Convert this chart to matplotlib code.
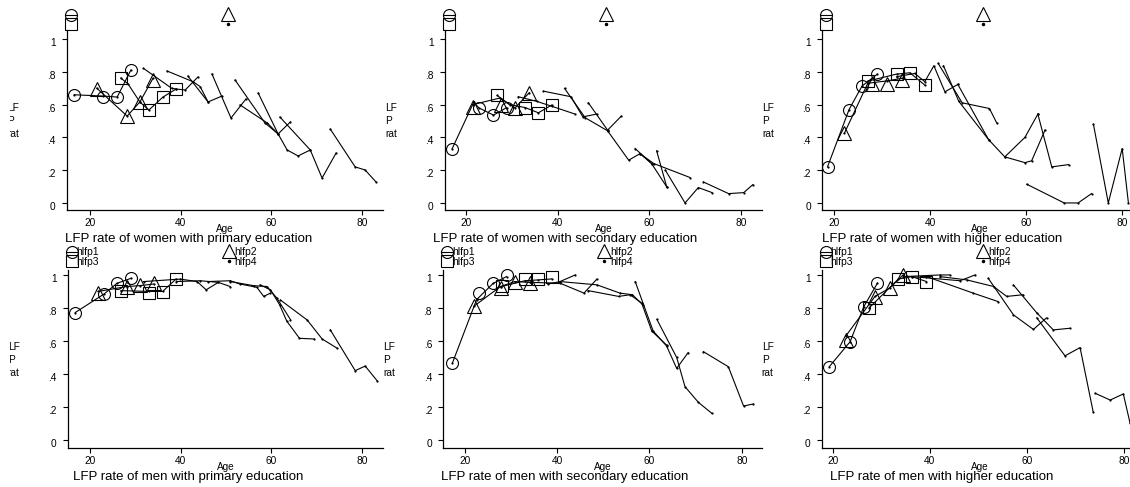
import matplotlib
matplotlib.use('Agg')
import matplotlib.pyplot as plt
from matplotlib.lines import Line2D
from matplotlib.transforms import Bbox, ScaledTranslation

plt.rcParams['font.family'] = ['Liberation Sans', 'DejaVu Sans']

# ---------------- data (age, LFP rate) ----------------
TITLES = ["LFP rate of women with primary education",
          "LFP rate of women with secondary education",
          "LFP rate of women with higher education",
          "LFP rate of men with primary education",
          "LFP rate of men with secondary education",
          "LFP rate of men with higher education"]
X_LABEL = "Age"
Y_LABEL = "LF\nP\nrat"
X_TICKS = [20, 40, 60, 80]
X_TICKLABELS = ["20", "40", "60", "80"]
Y_TICKS = [0, 0.2, 0.4, 0.6, 0.8, 1.0]
Y_TICKLABELS = ["0", ".2", ".4", ".6", ".8", "1"]
LEGEND_LABELS = ["hlfp1", "hlfp2", "hlfp3", "hlfp4"]

# women, primary
W1_LINES = [
    ([16.5, 22.9, 26.0, 29.0], [0.66, 0.652, 0.646, 0.81]),
    ([21.5, 28.2, 31.0, 33.9], [0.70, 0.53, 0.616, 0.76]),
    ([26.8, 28.4, 31.0, 33.0, 36.1, 39.0, 41.0, 43.8], [0.762, 0.726, 0.616, 0.567, 0.646, 0.695, 0.689, 0.768]),
    ([31.8, 38.0, 39.0], [0.821, 0.70, 0.695]),
    ([37.0, 42.7, 44.3, 46.05], [0.805, 0.74, 0.71, 0.616]),
    ([41.6, 46.05, 49.1], [0.774, 0.616, 0.652]),
    ([46.9, 51.1, 54.4], [0.787, 0.518, 0.634]),
    ([52.0, 58.6, 61.5], [0.75, 0.488, 0.421]),
    ([53.1, 59.1, 61.5, 63.5, 65.9, 68.6], [0.598, 0.488, 0.421, 0.323, 0.287, 0.323]),
    ([57.1, 61.5, 64.2], [0.671, 0.421, 0.494]),
    ([61.9, 68.6, 71.2, 74.3], [0.524, 0.323, 0.152, 0.305]),
    ([73.0, 78.5, 80.7, 83.1], [0.451, 0.22, 0.201, 0.128]),
]
W1_CIRC_X, W1_CIRC_Y = [16.5, 22.9, 26.0, 29.05], [0.66, 0.646, 0.646, 0.81]
W1_TRI_X, W1_TRI_Y = [21.5, 28.2, 31.0, 33.9], [0.695, 0.53, 0.616, 0.75]
W1_SQ_X, W1_SQ_Y = [26.8, 33.0, 36.1, 39.0], [0.762, 0.567, 0.646, 0.695]

# women, secondary
W2_LINES = [
    ([17.0, 21.7, 22.8, 26.0, 28.9], [0.332, 0.615, 0.58, 0.536, 0.582]),
    ([21.5, 27.4, 30.7, 33.8], [0.60, 0.64, 0.58, 0.672]),
    ([26.8, 29.5, 32.9, 35.8, 38.7], [0.656, 0.60, 0.582, 0.55, 0.597]),
    ([31.4, 35.4, 38.7, 43.8], [0.648, 0.62, 0.59, 0.542]),
    ([36.9, 42.9, 45.5, 48.5], [0.682, 0.648, 0.525, 0.542]),
    ([41.5, 46.0, 50.9], [0.699, 0.52, 0.44]),
    ([46.7, 50.9, 53.9], [0.611, 0.444, 0.53]),
    ([50.9, 55.5, 58.0, 60.5], [0.44, 0.261, 0.301, 0.24]),
    ([56.9, 60.5, 63.8], [0.332, 0.24, 0.098]),
    ([61.6, 63.8], [0.318, 0.098]),
    ([58.0, 61.0, 68.9], [0.30, 0.24, 0.155]),
    ([63.5, 67.8, 70.7, 73.7], [0.20, 0.0, 0.094, 0.063]),
    ([71.8, 77.3, 80.6, 82.6], [0.128, 0.057, 0.063, 0.112]),
]
W2_CIRC_X, W2_CIRC_Y = [17.0, 22.8, 26.0, 28.9], [0.332, 0.58, 0.536, 0.582]
W2_TRI_X, W2_TRI_Y = [21.5, 27.6, 30.7, 33.8], [0.587, 0.60, 0.58, 0.672]
W2_SQ_X, W2_SQ_Y = [26.8, 32.9, 35.8, 38.7], [0.656, 0.582, 0.55, 0.597]

# women, higher
W3_LINES = [
    ([18.6, 23.1, 25.8, 29.0], [0.22, 0.57, 0.713, 0.786]),
    ([22.1, 27.0, 31.1, 34.1], [0.424, 0.73, 0.745, 0.76]),
    ([27.0, 33.0, 35.8, 38.9], [0.743, 0.786, 0.794, 0.719]),
    ([33.0, 36.8, 38.9, 40.8, 43.1, 45.8], [0.77, 0.79, 0.74, 0.837, 0.678, 0.723]),
    ([41.7, 46.7, 52.4, 53.9], [0.851, 0.611, 0.576, 0.489]),
    ([42.8, 46.0, 52.2], [0.837, 0.62, 0.387]),
    ([45.8, 52.2, 55.6, 59.8, 62.5], [0.723, 0.387, 0.281, 0.40, 0.542]),
    ([55.6, 59.8, 61.2, 64.0], [0.281, 0.246, 0.257, 0.445]),
    ([62.5, 65.4, 68.9], [0.542, 0.22, 0.234]),
    ([60.2, 68.0, 70.9, 73.7], [0.114, 0.0, 0.0, 0.057]),
    ([74.1, 77.2, 80.1, 81.4], [0.48, 0.0, 0.332, 0.0]),
]
W3_CIRC_X, W3_CIRC_Y = [18.6, 23.1, 25.8, 29.0], [0.22, 0.57, 0.713, 0.786]
W3_TRI_X, W3_TRI_Y = [22.1, 27.9, 31.1, 34.1], [0.424, 0.725, 0.725, 0.75]
W3_SQ_X, W3_SQ_Y = [27.0, 33.0, 35.8, 38.9], [0.743, 0.786, 0.794, 0.719]

# men, primary
M1_LINES = [
    ([16.7, 23.1, 25.9, 29.05], [0.772, 0.885, 0.949, 0.98]),
    ([21.8, 28.1, 30.9, 34.0], [0.90, 0.93, 0.935, 0.945]),
    ([26.8, 33.1, 36.0, 38.9], [0.905, 0.90, 0.90, 0.974]),
    ([31.8, 39.9, 43.6, 45.6, 48.3], [0.96, 0.975, 0.96, 0.91, 0.955]),
    ([39.0, 44.3, 48.3, 50.9], [0.96, 0.965, 0.955, 0.93]),
    ([46.0, 50.9, 53.1, 56.8, 58.3, 59.8], [0.96, 0.965, 0.945, 0.925, 0.87, 0.89]),
    ([50.9, 56.1, 59.0, 61.2, 64.2], [0.96, 0.935, 0.93, 0.86, 0.73]),
    ([57.5, 59.8, 61.8, 63.4, 66.2, 69.4], [0.94, 0.91, 0.82, 0.72, 0.616, 0.612]),
    ([62.0, 67.9, 71.2, 74.5], [0.848, 0.727, 0.612, 0.556]),
    ([73.0, 78.5, 80.7, 83.3], [0.667, 0.42, 0.448, 0.36]),
]
M1_CIRC_X, M1_CIRC_Y = [16.7, 23.1, 25.9, 29.05], [0.772, 0.885, 0.949, 0.98]
M1_TRI_X, M1_TRI_Y = [21.8, 28.1, 30.9, 34.0], [0.893, 0.929, 0.939, 0.949]
M1_SQ_X, M1_SQ_Y = [26.8, 33.1, 36.0, 38.9], [0.905, 0.889, 0.899, 0.974]

# men, secondary
M2_LINES = [
    ([17.25, 22.5, 26.1, 29.0], [0.465, 0.85, 0.949, 0.99]),
    ([22.0, 27.7, 30.8, 34.1], [0.812, 0.93, 0.96, 0.955]),
    ([27.9, 33.0, 35.9, 38.8], [0.93, 0.965, 0.97, 0.976]),
    ([34.1, 40.6, 45.8, 48.6], [0.955, 0.95, 0.89, 0.975]),
    ([38.0, 40.6, 43.9], [0.945, 0.96, 1.0]),
    ([40.6, 48.6, 53.6, 56.3, 58.5], [0.96, 0.94, 0.89, 0.88, 0.82]),
    ([46.7, 53.3, 55.8, 58.3, 60.5, 63.7], [0.905, 0.87, 0.88, 0.83, 0.66, 0.575]),
    ([56.9, 60.8, 63.7, 65.9, 68.4], [0.96, 0.66, 0.57, 0.434, 0.53]),
    ([61.6, 65.9, 67.7, 70.6, 73.5], [0.731, 0.50, 0.323, 0.228, 0.162]),
    ([71.7, 77.1, 80.4, 82.5], [0.535, 0.444, 0.206, 0.218]),
]
M2_CIRC_X, M2_CIRC_Y = [17.25, 23.0, 26.1, 29.0], [0.465, 0.893, 0.949, 1.0]
M2_TRI_X, M2_TRI_Y = [22.0, 27.7, 30.8, 34.1], [0.812, 0.919, 0.96, 0.954]
M2_SQ_X, M2_SQ_Y = [27.95, 33.0, 35.9, 38.8], [0.933, 0.974, 0.974, 0.986]

# men, higher
M3_LINES = [
    ([19.3, 23.6, 26.4, 29.2], [0.444, 0.596, 0.808, 0.95]),
    ([22.7, 28.7, 31.7, 34.5], [0.63, 0.87, 0.92, 1.0]),
    ([27.5, 33.5, 36.3, 39.3], [0.80, 0.975, 0.99, 0.96]),
    ([34.5, 42.1, 44.1], [0.99, 1.0, 1.0]),
    ([36.3, 46.2, 49.3], [0.99, 0.965, 1.0]),
    ([39.3, 48.9, 54.1], [0.99, 0.89, 0.838]),
    ([42.1, 47.6, 53.1, 55.8, 59.2], [0.99, 0.97, 0.93, 0.87, 0.88]),
    ([52.0, 57.2, 61.3, 64.0], [0.98, 0.758, 0.67, 0.74]),
    ([57.2, 62.0, 65.4, 68.8], [0.939, 0.77, 0.667, 0.677]),
    ([62.0, 67.8, 70.9, 73.6], [0.74, 0.51, 0.56, 0.17]),
    ([74.0, 77.1, 79.8, 81.2], [0.283, 0.242, 0.279, 0.10]),
]
M3_CIRC_X, M3_CIRC_Y = [19.3, 23.6, 26.4, 29.2], [0.444, 0.596, 0.808, 0.95]
M3_TRI_X, M3_TRI_Y = [22.7, 28.7, 31.7, 34.5], [0.606, 0.869, 0.919, 1.0]
M3_SQ_X, M3_SQ_Y = [27.5, 33.5, 36.3, 39.3], [0.798, 0.974, 0.99, 0.96]

PANEL_DATA = [
    (W1_LINES, W1_CIRC_X, W1_CIRC_Y, W1_TRI_X, W1_TRI_Y, W1_SQ_X, W1_SQ_Y),
    (W2_LINES, W2_CIRC_X, W2_CIRC_Y, W2_TRI_X, W2_TRI_Y, W2_SQ_X, W2_SQ_Y),
    (W3_LINES, W3_CIRC_X, W3_CIRC_Y, W3_TRI_X, W3_TRI_Y, W3_SQ_X, W3_SQ_Y),
    (M1_LINES, M1_CIRC_X, M1_CIRC_Y, M1_TRI_X, M1_TRI_Y, M1_SQ_X, M1_SQ_Y),
    (M2_LINES, M2_CIRC_X, M2_CIRC_Y, M2_TRI_X, M2_TRI_Y, M2_SQ_X, M2_SQ_Y),
    (M3_LINES, M3_CIRC_X, M3_CIRC_Y, M3_TRI_X, M3_TRI_Y, M3_SQ_X, M3_SQ_Y),
]

# ---------------- layout (pixels) ----------------
W, H = 1130, 487
# (left px, right px, x-axis px, top px, xlim, ylim)
GEOM = [
    (67.0, 383.0, 210.0, 30.0, (14.93, 84.64), (-0.043, 1.055)),
    (445.0, 762.0, 210.0, 30.0, (15.42, 84.59), (-0.043, 1.055)),
    (822.0, 1138.0, 210.0, 30.0, (17.45, 83.4), (-0.043, 1.055)),
    (67.7, 383.0, 447.9, 270.0, (15.05, 84.63), (-0.048, 1.03)),
    (443.3, 762.0, 447.9, 270.0, (15.29, 84.4), (-0.048, 1.03)),
    (821.7, 1138.0, 447.9, 270.0, (17.74, 82.82), (-0.048, 1.03)),
]
COL_CENTERS = [188.3, 565.0, 941.7]

fig = plt.figure(figsize=(W / 100, H / 100), dpi=100)
fig.patch.set_facecolor('white')


def fx(x):
    return x / W


def fy(y):
    return 1 - y / H


LW = 0.8
for i, (geom, pdata) in enumerate(zip(GEOM, PANEL_DATA)):
    L, R, B, T, xl, yl = geom
    lines, cx, cy, tx, ty, sx, sy = pdata
    ax = fig.add_axes([fx(L), fy(B), (R - L) / W, (B - T) / H])
    ax.set_xlim(*xl)
    ax.set_ylim(*yl)
    ax.patch.set_alpha(0)
    for xs, ys in lines:
        ax.plot(xs, ys, color='black', lw=LW, marker='o', ms=1.6,
                mfc='black', mec='black', mew=0)
    ax.plot(cx, cy, ls='none', marker='o', ms=8.6, mfc='none', mec='black',
            mew=0.8, clip_on=False)
    ax.plot(tx, ty, ls='none', marker='^', ms=9.5, mfc='none', mec='black',
            mew=0.8, clip_on=False)
    ax.plot(sx, sy, ls='none', marker='s', ms=8.0, mfc='none', mec='black',
            mew=0.8, clip_on=False)
    for s in ['top', 'right']:
        ax.spines[s].set_visible(False)
    for s in ['left', 'bottom']:
        ax.spines[s].set_linewidth(0.9)
    ax.set_xticks(X_TICKS)
    ax.set_xticklabels(X_TICKLABELS)
    ax.set_yticks(Y_TICKS)
    ax.set_yticklabels(Y_TICKLABELS)
    ax.tick_params(axis='both', direction='out', length=3.6, width=0.8,
                   labelsize=7.3, colors='black')
    ax.tick_params(axis='x', pad=2.2)
    ax.tick_params(axis='y', pad=4.5)
    off = ScaledTranslation(0, -3 / 100, fig.dpi_scale_trans)
    for lab in ax.get_yticklabels():
        lab.set_transform(lab.get_transform() + off)

    row = i // 3
    col = i % 3
    # axis title
    age_y = 229 if row == 0 else 467
    fig.text(fx((L + R) / 2), fy(age_y), X_LABEL, ha='center', va='center',
             fontsize=7.2)
    # panel title
    tit_y = 239 if row == 0 else 477
    fig.text(fx(COL_CENTERS[col]), fy(tit_y), TITLES[i], ha='center',
             va='center', fontsize=9.5)
    # y label
    mid_y = (B + T) / 2 + 1
    yt = fig.text(fx(L - 60), fy(mid_y), Y_LABEL, ha='left', va='center',
                  fontsize=7.3, linespacing=1.35)
    if col == 0:
        yt.set_clip_on(True)
        yt.set_clip_box(Bbox([[10, 0], [W, H]]))

    # legend
    ly1 = 15 if row == 0 else 252
    ly2 = ly1 + 9
    for (mx, my, mk, ms, line_key) in [
        (L + 4, ly1, 'o', 8.6, True),
        (L + 4, ly2, 's', 8.0, False),
        (L + 161, ly1 - 1, '^', 9.5, False),
    ]:
        fig.add_artist(Line2D([fx(mx)], [fy(my)], marker=mk, ms=ms,
                              mfc='none', mec='black', mew=0.8, ls='none',
                              transform=fig.transFigure))
        if line_key:
            fig.add_artist(Line2D([fx(mx - 6), fx(mx + 6)], [fy(my), fy(my)],
                                  color='black', lw=LW,
                                  transform=fig.transFigure))
    fig.add_artist(Line2D([fx(L + 161)], [fy(ly2)], marker='o', ms=1.5,
                          mfc='black', mec='black', ls='none',
                          transform=fig.transFigure))
    if row == 1:
        fig.text(fx(L + 9), fy(ly1), LEGEND_LABELS[0], ha='left', va='center', fontsize=7.5)
        fig.text(fx(L + 9), fy(ly2 + 1), LEGEND_LABELS[2], ha='left', va='center', fontsize=7.5)
        fig.text(fx(L + 167), fy(ly1), LEGEND_LABELS[1], ha='left', va='center', fontsize=7.5)
        fig.text(fx(L + 167), fy(ly2 + 1), LEGEND_LABELS[3], ha='left', va='center', fontsize=7.5)

fig.savefig('out.png', dpi=100, facecolor='white')
